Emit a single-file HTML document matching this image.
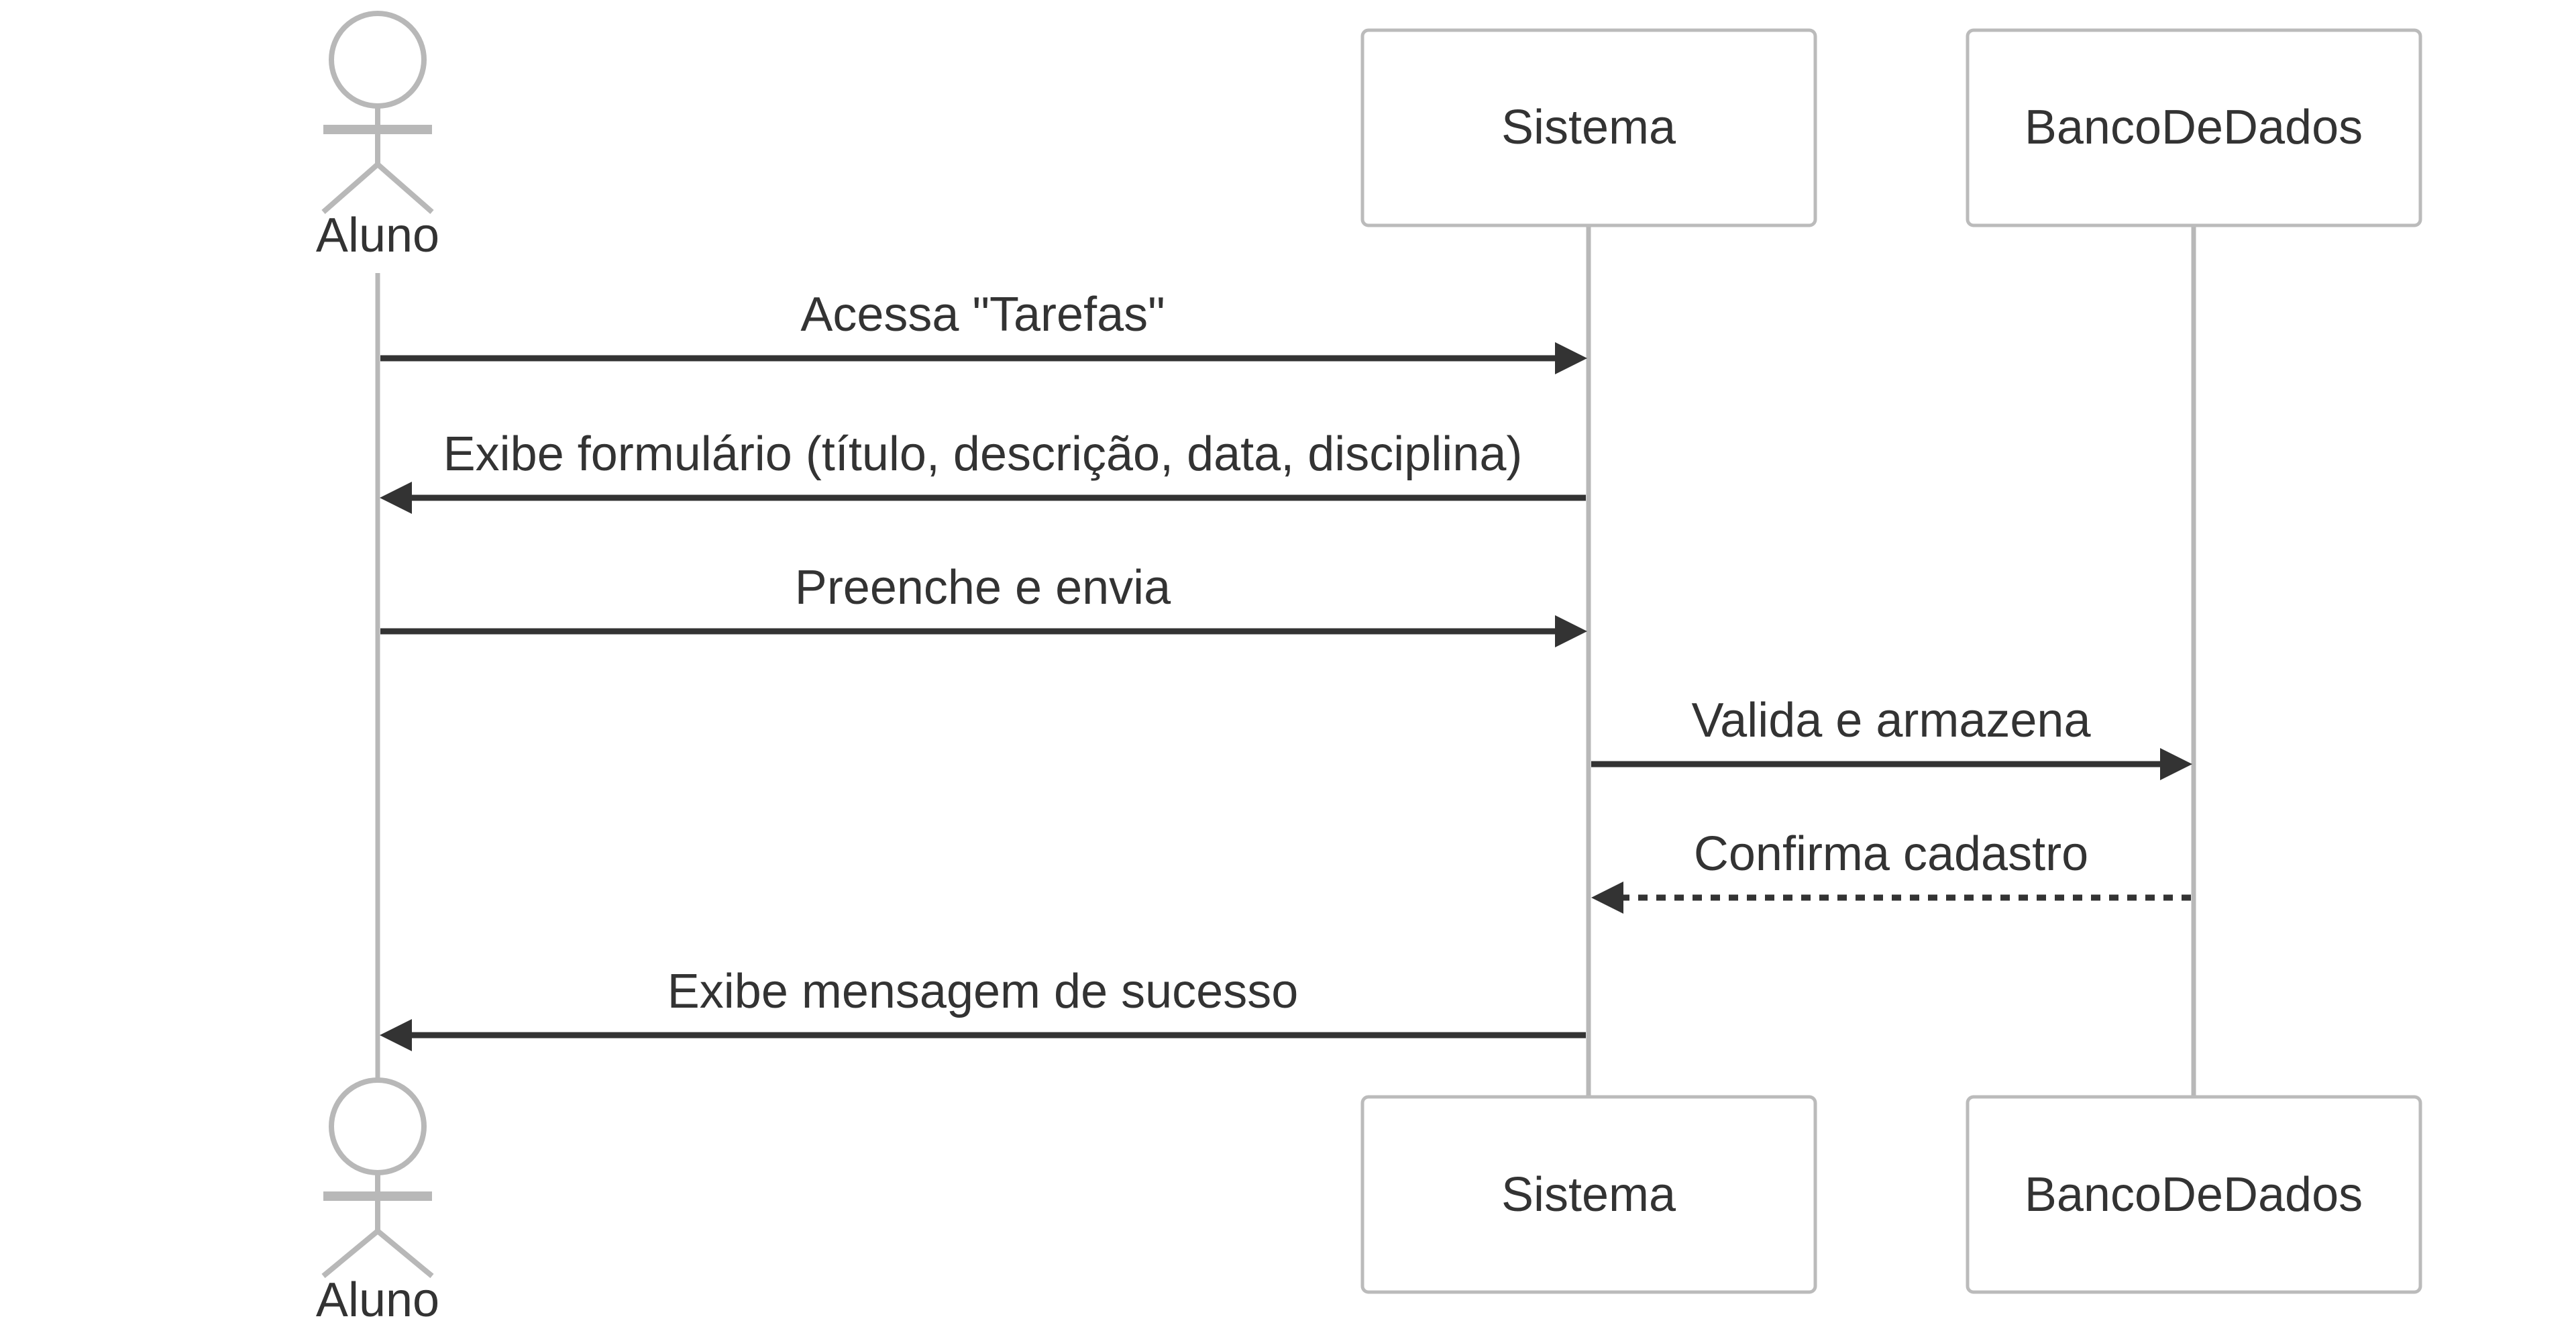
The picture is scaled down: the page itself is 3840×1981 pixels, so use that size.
<!DOCTYPE html>
<html><head><meta charset="utf-8"><style>
html,body{margin:0;padding:0;background:#fff;}
svg{display:block;}
text{font-family:"Liberation Sans",Arial,sans-serif;font-size:72px;fill:#333;text-anchor:middle;}
</style></head><body>
<svg width="3840" height="1981" viewBox="0 0 3840 1981" xmlns="http://www.w3.org/2000/svg">
<rect width="3840" height="1981" fill="#fff"/>
<!-- lifelines -->
<g stroke="#b8b8b8" stroke-width="7">
<line x1="563" y1="407" x2="563" y2="1610"/>
<line x1="2368" y1="336" x2="2368" y2="1634"/>
<line x1="3270" y1="336" x2="3270" y2="1634"/>
</g>
<!-- boxes -->
<g fill="#fff" stroke="#bbb" stroke-width="5">
<rect x="2031" y="45" width="675" height="291" rx="9"/>
<rect x="2933" y="45" width="675" height="291" rx="9"/>
<rect x="2031" y="1635" width="675" height="291" rx="9"/>
<rect x="2933" y="1635" width="675" height="291" rx="9"/>
</g>
<text x="2368" y="214">Sistema</text>
<text x="3270" y="214">BancoDeDados</text>
<text x="2368" y="1805">Sistema</text>
<text x="3270" y="1805">BancoDeDados</text>
<!-- actors -->
<g fill="none" stroke="#b8b8b8" stroke-width="8">
<circle cx="563" cy="89" r="69"/>
<line x1="563" y1="158" x2="563" y2="245"/>
<line x1="482" y1="193" x2="644" y2="193" stroke-width="14"/>
<polyline points="482,316 563,245 644,316"/>
<circle cx="563" cy="1679" r="69"/>
<line x1="563" y1="1748" x2="563" y2="1835"/>
<line x1="482" y1="1783" x2="644" y2="1783" stroke-width="14"/>
<polyline points="482,1902 563,1835 644,1902"/>
</g>
<text x="563" y="375">Aluno</text>
<text x="563" y="1962">Aluno</text>
<!-- messages -->
<g stroke="#333" stroke-width="9">
<line x1="567" y1="534" x2="2320" y2="534"/>
<line x1="2364" y1="742" x2="612" y2="742"/>
<line x1="567" y1="941" x2="2320" y2="941"/>
<line x1="2372" y1="1139" x2="3222" y2="1139"/>
<line x1="3266" y1="1338" x2="2416" y2="1338" stroke-dasharray="14 13"/>
<line x1="2364" y1="1543" x2="612" y2="1543"/>
</g>
<g fill="#333">
<polygon points="2318,510 2366,534 2318,558"/>
<polygon points="614,718 566,742 614,766"/>
<polygon points="2318,917 2366,941 2318,965"/>
<polygon points="3220,1115 3268,1139 3220,1163"/>
<polygon points="2420,1314 2372,1338 2420,1362"/>
<polygon points="614,1519 566,1543 614,1567"/>
</g>
<text x="1465" y="493">Acessa "Tarefas"</text>
<text x="1465" y="701">Exibe formulário (título, descrição, data, disciplina)</text>
<text x="1465" y="900">Preenche e envia</text>
<text x="2819" y="1098">Valida e armazena</text>
<text x="2819" y="1297">Confirma cadastro</text>
<text x="1465" y="1502">Exibe mensagem de sucesso</text>
</svg>
</body></html>
